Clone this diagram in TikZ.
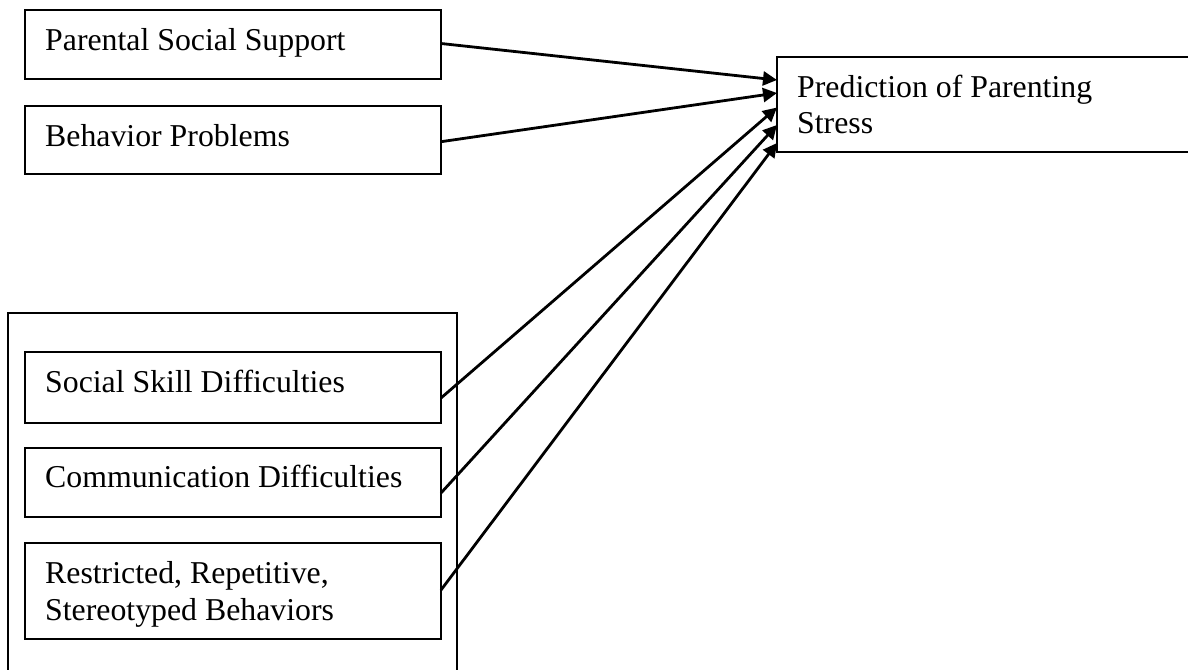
\documentclass[tikz,border=0pt]{standalone}
\usepackage{fontspec}
\setmainfont{Liberation Serif}
\usetikzlibrary{arrows.meta,calc}
\begin{document}
\begin{tikzpicture}[x=1pt,y=-1pt,
  box/.style={draw, line width=2pt, rectangle, anchor=north west, inner sep=0pt, outer sep=0pt},
  lbl/.style={anchor=base west, inner sep=0pt, font=\fontsize{31.8}{36.7}\selectfont, align=left},
  arr/.style={line width=2.8pt, -{Triangle[length=14pt,width=14pt]}}]
\useasboundingbox (0,0) rectangle (1188,669);
\clip (0,0) rectangle (1188,669);
\node[box, minimum width=416pt, minimum height=69pt] (pss) at (25,10) {};
\node[box, minimum width=416pt, minimum height=68pt] (bp) at (25,106) {};
\node[box, minimum width=500pt, minimum height=95pt] (tgt) at (777,57) {};
\node[box, minimum width=449pt, minimum height=420pt] (grp) at (8,313) {};
\node[box, minimum width=416pt, minimum height=71pt] (ssd) at (25,352) {};
\node[box, minimum width=416pt, minimum height=69pt] (cd) at (25,448) {};
\node[box, minimum width=416pt, minimum height=96pt] (rrs) at (25,543) {};
\node[lbl] (tpss) at ($(pss.north west)+(20,41)$) {Parental Social Support};
\node[lbl] (tbp) at ($(bp.north west)+(20,40)$) {Behavior Problems};
\node[lbl] (ttgt) at ($(tgt.north west)+(20,76.7)$) {Prediction of Parenting\\Stress};
\node[lbl] (tssd) at ($(ssd.north west)+(20,40)$) {Social Skill Difficulties};
\node[lbl] (tcd) at ($(cd.north west)+(20,39)$) {Communication Difficulties};
\node[lbl] (trrs) at ($(rrs.north west)+(20,77)$) {Restricted, Repetitive,\\Stereotyped Behaviors};
\draw[arr] ($(pss.east)+(0,-1)$) -- ($(tgt.west)+(0,-24.5)$);
\draw[arr] ($(bp.east)+(0,1.7)$) -- ($(tgt.west)+(0,-11.5)$);
\draw[arr] ($(ssd.east)+(0,10.5)$) -- ($(tgt.west)+(0,3)$);
\draw[arr] ($(cd.east)+(0,10.5)$) -- ($(tgt.west)+(0,20.5)$);
\draw[arr] ($(rrs.east)+(0,-1)$) -- ($(tgt.west)+(0,38.5)$);
\end{tikzpicture}
\end{document}
